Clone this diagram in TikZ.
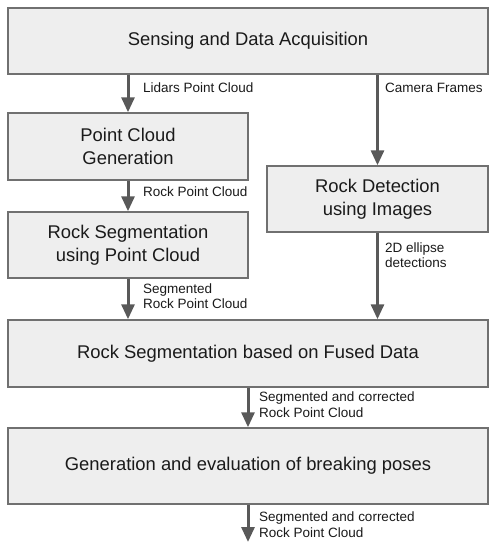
\documentclass[tikz,border=0pt]{standalone}
\usepackage{fontspec}
\setmainfont{Liberation Sans}
\usetikzlibrary{arrows.meta}
\definecolor{boxfill}{HTML}{EEEEEE}
\definecolor{boxline}{HTML}{707070}
\definecolor{arrowc}{HTML}{595959}
\definecolor{txt}{HTML}{1A1A1A}
\tikzset{
  stage/.style={draw=boxline, line width=1.5pt, fill=boxfill, align=center,
    inner sep=0pt, text=txt, font=\fontsize{18.4}{23}\selectfont},
  flow/.style={draw=arrowc, line width=3pt,
    -{Triangle[length=15pt,width=13pt]}},
  lbl/.style={anchor=west, inner sep=0pt, align=left, text=txt,
    font=\fontsize{13.5}{15.5}\selectfont}
}
\begin{document}
\begin{tikzpicture}[x=1pt,y=-1pt]
\useasboundingbox (0,0) rectangle (502,550);
\node[stage, minimum width=480, minimum height=66] (s1) at (248,41) {Sensing and Data Acquisition};
\node[stage, minimum width=240, minimum height=67] (pcg) at (128,146.5) {Point Cloud\\Generation};
\node[stage, minimum width=240, minimum height=66] (rspc) at (128,245) {Rock Segmentation\\using Point Cloud};
\node[stage, minimum width=221, minimum height=66] (rd) at (377.5,199) {Rock Detection\\using Images};
\node[stage, minimum width=480, minimum height=67] (fused) at (248,353.5) {Rock Segmentation based on Fused Data};
\node[stage, minimum width=480, minimum height=76] (gen) at (248,466) {Generation and evaluation of breaking poses};
\coordinate (out) at (248,542);

\draw[flow] (s1.south -| pcg.north) -- (pcg.north);
\draw[flow] (s1.south -| rd.north) -- (rd.north);
\draw[flow] (pcg.south) -- (rspc.north);
\draw[flow] (rspc.south) -- (rspc.south |- fused.north);
\draw[flow] (rd.south) -- (rd.south |- fused.north);
\draw[flow] (fused.south) -- (gen.north);
\draw[flow] (gen.south) -- (out);

\node[lbl] (l1) at (143,87.5) {Lidars Point Cloud};
\node[lbl] (l2) at (385,87.5) {Camera Frames};
\node[lbl] (l3) at (143,192) {Rock Point Cloud};
\node[lbl] (l4) at (143,296) {Segmented\\Rock Point Cloud};
\node[lbl] (l5) at (385,255) {2D ellipse\\detections};
\node[lbl] (l6) at (259,404.5) {Segmented and corrected\\Rock Point Cloud};
\node[lbl] (l7) at (259,524.5) {Segmented and corrected\\Rock Point Cloud};
\end{tikzpicture}
\end{document}
